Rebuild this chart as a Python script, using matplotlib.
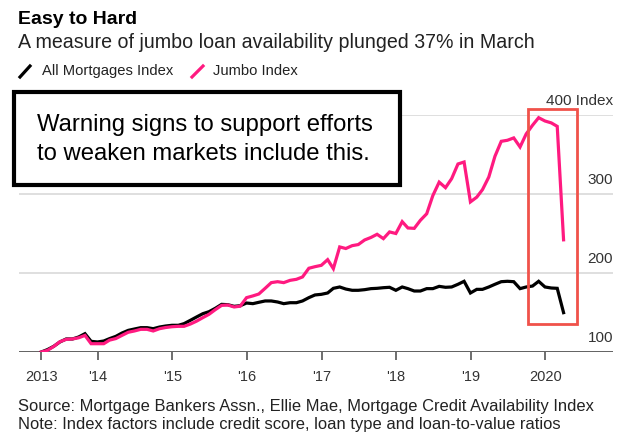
import matplotlib.pyplot as plt
import matplotlib.dates as mdates
import pandas as pd
from datetime import datetime
from matplotlib.patches import Rectangle
from matplotlib.lines import Line2D

plt.rcParams['font.family'] = ['Liberation Sans', 'DejaVu Sans']

# monthly index values, Mar 2013 .. Mar 2020
months = pd.date_range('2013-03-31', periods=85, freq='ME')
all_mortgages = [
    100, 103, 107.2, 112.7, 116.5, 116.5, 119, 123.2, 113.5, 112.7,
    113.9, 116.9, 119.8, 124, 127.4, 129.1, 130.8, 130.8, 129.5, 131.6,
    132.9, 133.8, 133.8, 135.9, 140.1, 144.3, 148.5, 151, 155.3, 160.3,
    159.9, 157.8, 158.6, 162, 161.2, 162.9, 164.6, 164.6, 163.3, 161.2,
    162.4, 162.4, 164.6, 168.8, 172.2, 173, 174.7, 180.6, 182.3, 179.7,
    178.1, 178.1, 178.9, 180.2, 180.6, 181.4, 181.9, 178.1, 182.3, 180.2,
    177.2, 177.2, 180.2, 180.2, 183.1, 181.9, 182.3, 185.7, 189.5, 174.7,
    179.3, 179.3, 182.3, 185.7, 189, 189.5, 189, 180.2, 182.3, 183.5,
    189.5, 182.3, 181, 180.6, 149.8]
jumbo = [
    100, 102, 107, 113, 116, 116.5, 118, 121, 110.5, 110.5,
    110.5, 115, 117, 121, 125, 126.6, 128.7, 128.7, 126.6, 129.5,
    131, 132, 132.5, 132.5, 135.4, 139, 143.5, 147.7, 153.6, 159,
    159.5, 157, 158, 168.8, 171, 173.4, 180.6, 187.8, 189, 187.8,
    190.7, 192, 195, 206, 208, 209.7, 216.9, 205.5, 233, 231,
    234.6, 236, 241.8, 245, 249, 243.5, 252, 250, 265, 257,
    256.5, 266.7, 275, 298, 315, 308, 319.4, 338, 340.5, 290,
    296, 305.5, 321.5, 347.7, 366.7, 368, 371, 359.5, 376, 387,
    396.6, 392.4, 390, 385.6, 242]

tick_dates = [datetime(2013, 3, 31)] + [datetime(y, 1, 1) for y in range(2014, 2021)]
tick_labels = ['2013', "'14", "'15", "'16", "'17", "'18", "'19", '2020']
y_levels = [100, 200, 300, 400]
y_labels = ['100', '200', '300', '400 Index']

W, H = 625, 438
PINK = '#ff1a80'


def fx(px):
    return px / W


def fy(py):
    return 1 - py / H


fig = plt.figure(figsize=(6.25, 4.38), dpi=100)
ax = fig.add_axes([fx(19), fy(352), fx(613) - fx(19), (352 - 115) / H])

# gridlines and base line
for v in y_levels[1:]:
    ax.axhline(v, color='#dcdcdc', lw=1.3, zorder=1)
ax.axhline(100, color='#555555', lw=1.3, zorder=2)

ax.plot(months, all_mortgages, color='black', lw=2.3, zorder=3, solid_joinstyle='miter')
ax.plot(months, jumbo, color=PINK, lw=2.3, zorder=4, solid_joinstyle='miter')

ax.set_xlim(datetime(2012, 12, 12), datetime(2020, 11, 28))
ax.set_ylim(100, 400)
ax.set_xticks(tick_dates)
ax.set_xticklabels(tick_labels, fontsize=10.5, color='#333333')
ax.tick_params(axis='x', length=6, width=1.2, color='#555555', pad=7)
ax.set_yticks([])
for s in ax.spines.values():
    s.set_visible(False)

for v, lab in zip(y_levels, y_labels):
    ax.annotate(lab, xy=(1, v), xycoords=('axes fraction', 'data'),
                xytext=(0, 7.5), textcoords='offset points',
                ha='right', va='baseline', fontsize=11, color='#333333')

# red highlight box
x0 = mdates.date2num(datetime(2019, 10, 8))
x1 = mdates.date2num(datetime(2020, 6, 6))
ax.add_patch(Rectangle((x0, 135.4), x1 - x0, 272.2, fill=False,
                       edgecolor='#f0524a', lw=2, clip_on=False, zorder=5))

# titles
fig.text(fx(18), fy(24), 'Easy to Hard', fontsize=14, fontweight='bold', va='baseline')
fig.text(fx(18), fy(47.7), 'A measure of jumbo loan availability plunged 37% in March',
         fontsize=14.1, va='baseline', color='#222222')

# legend
fig.add_artist(Line2D([fx(20), fx(30)], [fy(77), fy(66)], color='black', lw=2.3))
fig.text(fx(42), fy(71), 'All Mortgages Index', fontsize=10.6, va='center', color='#222222')
fig.add_artist(Line2D([fx(192), fx(203)], [fy(77), fy(66)], color=PINK, lw=2.3))
fig.text(fx(213), fy(71), 'Jumbo Index', fontsize=10.6, va='center', color='#222222')

# annotation box
fig.add_artist(Rectangle((fx(14), fy(185)), fx(400) - fx(14), (185 - 92) / H,
                         transform=fig.transFigure, facecolor='white',
                         edgecolor='black', lw=3, zorder=10))
fig.text(fx(37), fy(125), 'Warning signs to support efforts', fontsize=17.2,
         va='center', zorder=11)
fig.text(fx(37), fy(154), 'to weaken markets include this.', fontsize=17.2,
         va='center', zorder=11)

# footnotes
fig.text(fx(18), fy(406.5), 'Source: Mortgage Bankers Assn., Ellie Mae, Mortgage Credit Availability Index',
         fontsize=11.9, va='center', color='#222222')
fig.text(fx(18), fy(424), 'Note: Index factors include credit score, loan type and loan-to-value ratios',
         fontsize=11.9, va='center', color='#222222')

fig.savefig('out.png', dpi=100)
